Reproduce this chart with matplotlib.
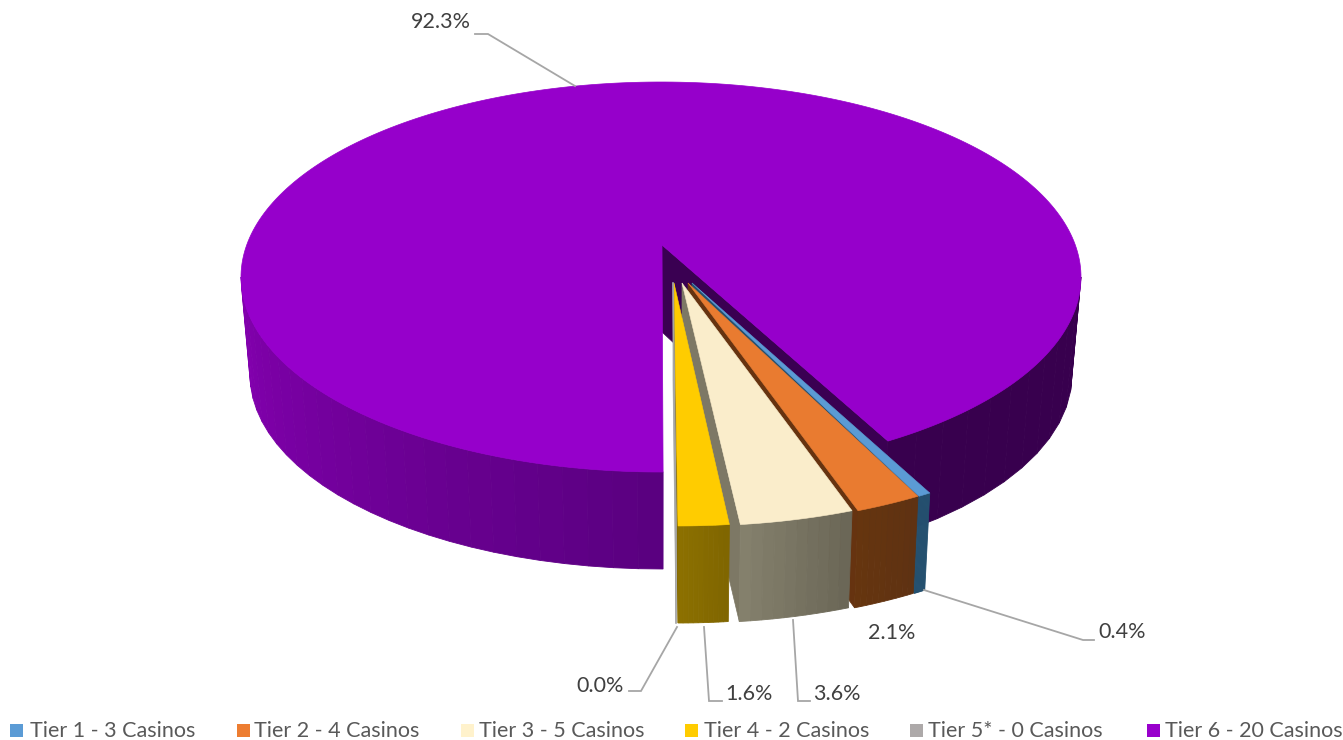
# -*- coding: utf-8 -*-
"""3D style pie (casino tiers) - drawn by hand because matplotlib has no 3D pie"""
import numpy as np
import matplotlib
matplotlib.use("Agg")
import matplotlib.pyplot as plt
from matplotlib.patches import Polygon, Rectangle
from matplotlib.colors import to_rgb

plt.rcParams["font.family"] = ["Lato", "DejaVu Sans"]

# ------------------------------------------------------------
# data
# ------------------------------------------------------------
TIERS = ["Tier 1 - 3 Casinos", "Tier 2 - 4 Casinos", "Tier 3 - 5 Casinos",
         "Tier 4 - 2 Casinos", "Tier 5* - 0 Casinos", "Tier 6 - 20 Casinos"]
SHARES = [0.4, 2.1, 3.6, 1.6, 0.0, 92.3]

LEGEND_COLORS = ["#5B9BD5", "#ED7D31", "#FFF2CC", "#FFCC00", "#ADA9A9", "#9900CC"]
TOP_COLORS = ["#5B9BD5", "#E97B30", "#FAEDCB", "#FFCC00", "#A5A5A5", "#9600CB"]
WALL_LIGHT = ["#24506F", "#66350F", "#84806C", "#8C7000", "#A5A5A5", "#8400B0"]
WALL_DARK = ["#24506F", "#5F3212", "#6B6757", "#806600", "#A5A5A5", "#5A0080"]
CUT_COLORS = ["#24506F", "#663310", "#7D7865", "#806600", "#A5A5A5", "#3A0052"]

# ------------------------------------------------------------
# pie geometry (pixels of the figure)
# ------------------------------------------------------------
CX, TOP_CY, BOT_CY = 661, 277, 375
TOP_RX, TOP_RY = 420, 195
BOT_RX, BOT_RY = 411, 194
APEX_Y, APEX_H = 245, 87
K_SMALL, K_MAIN = 1.22, 1.18    # perspective stretch of the angles
# explode shift of each slice, (outer dx, apex dx)
SHIFT_X = [35, 34, 28, 17, 15, 0]
APEX_X = [31, 27, 21, 13, 12, 1]
SHIFT_Y = 54
APEX_SHIFT_Y = 38

DARK_SIDE = "#38004E"


def top_pt(t, dx=0, dy=0):
    return CX + dx + TOP_RX * np.sin(t), TOP_CY + dy + TOP_RY * np.cos(t)


def bot_pt(t, dx=0, dy=0):
    return CX + dx + BOT_RX * np.sin(t), BOT_CY + dy + BOT_RY * np.cos(t)


def mix(c1, c2, f):
    a, b = np.array(to_rgb(c1)), np.array(to_rgb(c2))
    return tuple(a + (b - a) * f)


def outer_wall(ax, t0, t1, c0, c1, dx=0, dy=0, n=30):
    ts = np.linspace(t0, t1, n + 1)
    for j in range(n):
        col = mix(c0, c1, j / max(n - 1, 1))
        a = top_pt(ts[j], dx, dy)
        b = top_pt(ts[j + 1], dx, dy)
        c = bot_pt(ts[j + 1], dx, dy)
        d = bot_pt(ts[j], dx, dy)
        ax.add_patch(Polygon([a, b, c, d], closed=True, fc=col, ec=col, lw=0.6))


fig = plt.figure(figsize=(13.43, 7.4), dpi=100)
ax = fig.add_axes([0, 0, 1, 1])
ax.set_xlim(0, 1343)
ax.set_ylim(740, 0)
ax.axis("off")

# 뒤쪽 큰 조각 (Tier 6)
small_total = np.deg2rad(sum(SHARES[:5]) * 3.6)
t_main = small_total * K_MAIN
t_close = 2 * np.pi + 0.005
apex = (CX + APEX_X[5], APEX_Y)
end_top = top_pt(t_main)
end_bot = bot_pt(t_main)
ax.add_patch(Polygon([apex, end_top, end_bot, (apex[0], APEX_Y + APEX_H)],
                     closed=True, fc=CUT_COLORS[5], ec=CUT_COLORS[5], lw=0.5))
outer_wall(ax, t_main, np.pi / 2, DARK_SIDE, DARK_SIDE, n=12)
outer_wall(ax, 1.5 * np.pi, t_close, WALL_LIGHT[5], WALL_DARK[5], n=26)
ts = np.linspace(t_main, t_close, 300)
arc = [top_pt(t) for t in ts]
ax.add_patch(Polygon([apex] + arc, closed=True, fc=TOP_COLORS[5], ec=TOP_COLORS[5], lw=0.5))

# 작은 조각들: 뒤에서 앞으로 (Tier 1 -> Tier 4), Tier 5 는 0% 라 선으로만 보임
cum = np.cumsum(SHARES[:5][::-1])[::-1]   # upper edge of each slice
for i in range(5):
    t1 = np.deg2rad(cum[i] * 3.6) * K_SMALL
    t0 = np.deg2rad((cum[i] - SHARES[i]) * 3.6) * K_SMALL
    dx, ax_dx = SHIFT_X[i], APEX_X[i]
    p = (CX + ax_dx, APEX_Y + APEX_SHIFT_Y)
    p_low = (p[0], p[1] + APEX_H + 10)
    # inner cut wall on the left side
    ax.add_patch(Polygon([p, top_pt(t0, dx, SHIFT_Y), bot_pt(t0, dx, SHIFT_Y), p_low],
                         closed=True, fc=CUT_COLORS[i], ec=CUT_COLORS[i], lw=0.5))
    if SHARES[i] > 0:
        outer_wall(ax, t0, t1, WALL_LIGHT[i], WALL_DARK[i], dx, SHIFT_Y, n=10)
        ts = np.linspace(t0, t1, 40)
        ax.add_patch(Polygon([p] + [top_pt(t, dx, SHIFT_Y) for t in ts], closed=True,
                             fc=TOP_COLORS[i], ec=TOP_COLORS[i], lw=0.4))
    else:
        ax.plot([p[0], top_pt(t0, dx, SHIFT_Y)[0], bot_pt(t0, dx, SHIFT_Y)[0]],
                [p[1], top_pt(t0, dx, SHIFT_Y)[1], bot_pt(t0, dx, SHIFT_Y)[1]],
                color=TOP_COLORS[i], lw=1.2)

# ------------------------------------------------------------
# data labels + leader lines
# ------------------------------------------------------------
LABEL_XY = [(1098, 632), (868, 633), (813, 694), (725, 694), (576, 686), (411, 22)]
LEADERS = [
    [(924, 590), (1083, 640), (1094, 640)],
    None,
    [(793, 620), (798, 701), (810, 701)],
    [(704, 627), (709, 701), (722, 701)],
    [(677, 627), (641, 691), (629, 691)],
    [(575, 86), (488, 34), (475, 34)],
]
for i, v in enumerate(SHARES):
    ax.text(LABEL_XY[i][0], LABEL_XY[i][1], f"{v:.1f}%", fontsize=15.5,
            color="#404040", ha="left", va="center")
    if LEADERS[i] is not None:
        xs, ys = zip(*LEADERS[i])
        ax.plot(xs, ys, color="#A6A6A6", lw=1.3, solid_joinstyle="miter")

# legend (columns are not evenly spaced in the original, so placed by hand)
SWATCH_X = [10, 237, 461, 685, 910, 1147]
TEXT_X = [30, 254, 479, 704, 928, 1165]
for i, name in enumerate(TIERS):
    ax.add_patch(Rectangle((SWATCH_X[i], 724), 13, 13, fc=LEGEND_COLORS[i], ec="none"))
    ax.text(TEXT_X[i], 731, name, fontsize=15.5, color="#595959", ha="left", va="center")

plt.savefig("out.png", dpi=100)
plt.close()
